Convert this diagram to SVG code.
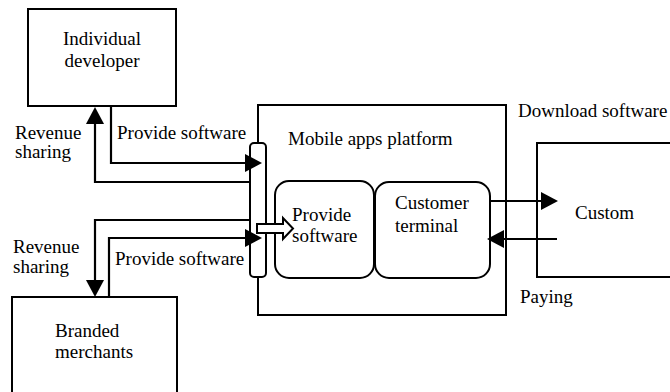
<svg xmlns="http://www.w3.org/2000/svg" width="670" height="392" viewBox="0 0 670 392">
<style>
.box{fill:#fff;stroke:#000;stroke-width:2}
.rbox{fill:#fff;stroke:#000;stroke-width:2}
.ln{fill:none;stroke:#000;stroke-width:2.2}
</style>
<defs>
<marker id="ah" viewBox="0 0 17 18" refX="1" refY="9" markerWidth="17" markerHeight="18" markerUnits="userSpaceOnUse" orient="auto">
<path d="M0,0 L17,9 L0,18 Z" fill="#000"/>
</marker>
</defs>
<rect width="670" height="392" fill="#fff"/>
<g font-family="Liberation Serif, Times New Roman, Times, serif" font-size="19" fill="#000">

<g id="individual-developer">
<rect class="box" x="28" y="9" width="148" height="97"/>
<text x="102" y="45" text-anchor="middle">Individual</text>
<text x="102" y="67" text-anchor="middle">developer</text>
</g>

<g id="branded-merchants">
<rect class="box" x="12" y="297" width="165" height="110"/>
<text x="55" y="337">Branded</text>
<text x="55" y="358">merchants</text>
</g>

<g id="mobile-apps-platform">
<rect class="box" x="258" y="105" width="248" height="210"/>
<text x="288" y="145">Mobile apps platform</text>
</g>

<g id="provide-software-box">
<rect class="rbox" x="275" y="181" width="99" height="97" rx="14"/>
<text x="292" y="221">Provide</text>
<text x="292" y="242">software</text>
</g>

<g id="customer-terminal">
<rect class="rbox" x="375" y="182" width="115" height="96" rx="14"/>
<text x="395" y="209">Customer</text>
<text x="395" y="232">terminal</text>
</g>

<g id="custom">
<rect class="box" x="537" y="143" width="150" height="134"/>
<text x="575" y="219">Custom</text>
</g>

<g id="interface-bar">
<rect class="box" x="250" y="143" width="16" height="134" rx="4"/>
</g>

<g id="connectors">
<path class="ln" d="M250,182 H95 V123" marker-end="url(#ah)"/>
<path class="ln" d="M111,106 V163 H246" marker-end="url(#ah)"/>
<path class="ln" d="M250,220 H95 V281" marker-end="url(#ah)"/>
<path class="ln" d="M109,297 V238 H246" marker-end="url(#ah)"/>
<path class="ln" d="M490,201 H542" marker-end="url(#ah)"/>
<path class="ln" d="M557,239 H503" marker-end="url(#ah)"/>
<path d="M257,224 H283 V218 L293,228.5 L283,239 V233 H257 Z" fill="#fff" stroke="#000" stroke-width="2"/>
</g>

<g id="labels">
<text x="15" y="139">Revenue</text>
<text x="15" y="158">sharing</text>
<text x="117" y="139">Provide software</text>
<text x="13" y="253">Revenue</text>
<text x="13" y="273">sharing</text>
<text x="115" y="265">Provide software</text>
<text x="518" y="117">Download software</text>
<text x="520" y="303">Paying</text>
</g>
</g>
</svg>
